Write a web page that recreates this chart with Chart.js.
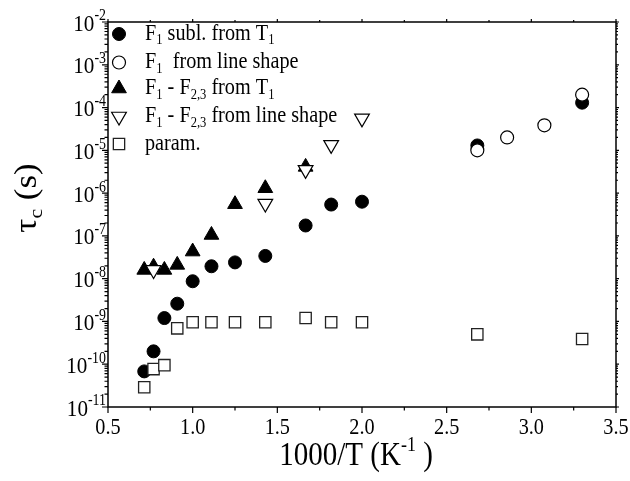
<!DOCTYPE html>
<html>
<head>
  <title>tau_c vs 1000/T</title>
  <script src="https://cdn.jsdelivr.net/npm/chart.js"></script>
  <style>
    body { margin: 0; background: #fff; }
    #wrap { width: 630px; height: 481px; }
  </style>
</head>
<body>
  <div id="wrap"><canvas id="chart" width="630" height="481"></canvas></div>
  <script>
    // values (x = 1000/T in 1/K, y = tau_c in s)
    const xSublT1 = [0.714, 0.769, 0.833, 0.909, 1.0, 1.111, 1.25, 1.429, 1.667, 1.818, 2.0, 2.681, 3.3];
    const ySublT1 = [6.8e-11, 2.0e-10, 1.2e-9, 2.6e-9, 8.7e-9, 1.95e-8, 2.4e-8, 3.4e-8, 1.75e-7, 5.4e-7, 6.3e-7, 1.3e-5, 1.3e-4];

    const xF1Shape = [2.681, 2.857, 3.077, 3.3];
    const yF1Shape = [1.0e-5, 2.0e-5, 3.85e-5, 2.0e-4];

    const xF23T1 = [0.714, 0.769, 0.833, 0.909, 1.0, 1.111, 1.25, 1.429, 1.667];
    const yF23T1 = [1.6e-8, 1.9e-8, 1.6e-8, 2.1e-8, 4.3e-8, 1.05e-7, 5.5e-7, 1.3e-6, 4.1e-6];

    const xF23Shape = [0.769, 1.429, 1.667, 1.818, 2.0];
    const yF23Shape = [1.6e-8, 5.7e-7, 3.5e-6, 1.34e-5, 5.6e-5];

    const xParam = [0.714, 0.769, 0.833, 0.909, 1.0, 1.111, 1.25, 1.429, 1.667, 1.818, 2.0, 2.681, 3.3];
    const yParam = [2.9e-11, 7.7e-11, 9.5e-11, 6.9e-10, 9.6e-10, 9.6e-10, 9.6e-10, 9.6e-10, 1.2e-9, 9.6e-10, 9.6e-10, 5.0e-10, 3.9e-10];

    const xTicks = [0.5, 1.0, 1.5, 2.0, 2.5, 3.0, 3.5];
    const yExponents = [-11, -10, -9, -8, -7, -6, -5, -4, -3, -2];

    // legend text: [text, kind] with n = normal, b = subscript, p = superscript
    const legendLabels = [
      [['F', 'n'], ['1', 'b'], [' subl. from T', 'n'], ['1', 'b']],
      [['F', 'n'], ['1', 'b'], ['  from line shape', 'n']],
      [['F', 'n'], ['1', 'b'], [' - F', 'n'], ['2,3', 'b'], [' from T', 'n'], ['1', 'b']],
      [['F', 'n'], ['1', 'b'], [' - F', 'n'], ['2,3', 'b'], [' from line shape', 'n']],
      [['param.', 'n']]
    ];
    const xTitle = [['1000/T (K', 'n'], ['-1', 'p'], [' )', 'n']];
    const yTitle = [['\u03c4', 'n'], ['c', 'b'], [' (s)', 'n']];

    const pts = (xs, ys) => xs.map((x, i) => ({ x: x, y: ys[i] }));

    const FONT = '"Liberation Serif", "Times New Roman", serif';
    const SX = 0.88; // the original text is a little narrow

    function rich(ctx, parts, x, y, size, align, rotate, supScale) {
      const small = supScale || 0.62;
      const fnt = k => (k === 'n' ? size : size * small) + 'px ' + FONT;
      ctx.save();
      ctx.translate(x, y);
      ctx.scale(SX, 1);
      if (rotate) ctx.rotate(-Math.PI / 2);
      ctx.fillStyle = '#000';
      ctx.textBaseline = 'alphabetic';
      let w = 0;
      parts.forEach(p => { ctx.font = fnt(p[1]); w += ctx.measureText(p[0]).width; });
      let cx = align === 'center' ? -w / 2 : align === 'right' ? -w : 0;
      parts.forEach(p => {
        ctx.font = fnt(p[1]);
        const dy = p[1] === 'b' ? size * 0.2 : p[1] === 'p' ? -size * 0.42 : 0;
        ctx.fillText(p[0], cx, dy);
        cx += ctx.measureText(p[0]).width;
      });
      ctx.restore();
    }

    const styles = [
      { pointStyle: 'circle', radius: 6.5, rotation: 0, fill: '#000', border: '#000', bw: 1 },
      { pointStyle: 'circle', radius: 6.5, rotation: 0, fill: '#fff', border: '#000', bw: 1.2 },
      { pointStyle: 'triangle', radius: 8.5, rotation: 0, fill: '#000', border: '#000', bw: 1 },
      { pointStyle: 'triangle', radius: 8.5, rotation: 180, fill: '#fff', border: '#000', bw: 1.2 },
      { pointStyle: 'rect', radius: 8, rotation: 0, fill: '#fff', border: '#222', bw: 1.3 }
    ];

    const frame = {
      id: 'frame',
      afterDraw(chart) {
        const ctx = chart.ctx;
        const a = chart.chartArea;
        const xs = chart.scales.x, ys = chart.scales.y;
        ctx.save();
        ctx.strokeStyle = '#000';
        ctx.lineWidth = 1.5;
        ctx.strokeRect(a.left, a.top, a.right - a.left, a.bottom - a.top);

        ctx.lineWidth = 1.2;
        ctx.beginPath();
        // x ticks: majors + minors, outward on bottom, small on top
        for (let v = 0.5; v <= 3.501; v += 0.25) {
          const px = xs.getPixelForValue(v);
          const major = Math.abs(v * 2 - Math.round(v * 2)) < 1e-6;
          ctx.moveTo(px, a.bottom);
          ctx.lineTo(px, a.bottom + (major ? 6 : 3.5));
          ctx.moveTo(px, a.top);
          ctx.lineTo(px, a.top - (major ? 3 : 2));
        }
        // y ticks: decades + 2..9 minors
        yExponents.forEach(k => {
          const py = ys.getPixelForValue(Math.pow(10, k));
          ctx.moveTo(a.left, py);
          ctx.lineTo(a.left - 6, py);
          ctx.moveTo(a.right, py);
          ctx.lineTo(a.right + 3, py);
          if (k < -2) {
            for (let m = 2; m <= 9; m++) {
              const pm = ys.getPixelForValue(m * Math.pow(10, k));
              ctx.moveTo(a.left, pm);
              ctx.lineTo(a.left - 3.5, pm);
              ctx.moveTo(a.right, pm);
              ctx.lineTo(a.right + 2, pm);
            }
          }
        });
        ctx.stroke();
        ctx.restore();

        // tick labels
        xTicks.forEach(v => {
          rich(ctx, [[v.toFixed(1), 'n']], xs.getPixelForValue(v), a.bottom + 27, 23, 'center');
        });
        yExponents.forEach(k => {
          const py = ys.getPixelForValue(Math.pow(10, k));
          rich(ctx, [['10', 'n'], [String(k), 'p']], a.left - 2, py + 8.5, 24, 'right', false, 0.66);
        });

        // axis titles
        rich(ctx, xTitle, 356, 465, 33, 'center');
        rich(ctx, yTitle, 36, 198, 35, 'center', true);

        // legend
        const rows = [34, 62.5, 88.5, 116.5, 144];
        legendLabels.forEach((lab, i) => {
          const s = styles[i];
          ctx.save();
          ctx.fillStyle = s.fill;
          ctx.strokeStyle = s.border;
          ctx.lineWidth = s.bw;
          Chart.helpers.drawPoint(ctx, {
            pointStyle: s.pointStyle, radius: s.radius, rotation: s.rotation, borderWidth: s.bw
          }, 119, rows[i]);
          ctx.restore();
          rich(ctx, lab, 145, rows[i] + 5.5, 23, 'left');
        });
      }
    };

    const series = [
      pts(xSublT1, ySublT1),
      pts(xF1Shape, yF1Shape),
      pts(xF23T1, yF23T1),
      pts(xF23Shape, yF23Shape),
      pts(xParam, yParam)
    ];

    new Chart(document.getElementById('chart'), {
      type: 'scatter',
      data: {
        datasets: series.map((d, i) => ({
          data: d,
          order: 5 - i,
          showLine: false,
          pointStyle: styles[i].pointStyle,
          pointRadius: styles[i].radius,
          pointHoverRadius: styles[i].radius,
          pointRotation: styles[i].rotation,
          backgroundColor: styles[i].fill,
          borderColor: styles[i].border,
          borderWidth: styles[i].bw
        }))
      },
      options: {
        responsive: false,
        animation: false,
        layout: { padding: { left: 108, top: 22, right: 14, bottom: 74 } },
        plugins: { legend: { display: false }, tooltip: { enabled: false } },
        scales: {
          x: { type: 'linear', min: 0.5, max: 3.5, display: false },
          y: { type: 'logarithmic', min: 1e-11, max: 1e-2, display: false }
        }
      },
      plugins: [frame]
    });
  </script>
</body>
</html>
